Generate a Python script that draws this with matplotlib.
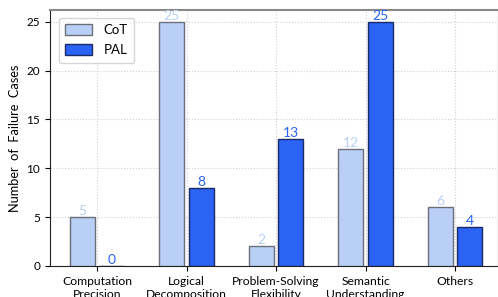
import numpy as np
import matplotlib.pyplot as plt

categories = ['Computation\nPrecision', 'Logical\nDecomposition', 'Problem-Solving\nFlexibility',
              'Semantic\nUnderstanding', 'Others']
cot = [5, 25, 2, 12, 6]
pal = [0, 8, 13, 25, 4]

plt.rcParams['font.family'] = ['Lato', 'DejaVu Sans']

fig = plt.figure(figsize=(4.98, 2.97), dpi=100)
ax = fig.add_axes([0.1004, 0.1044, 0.8996, 0.862])

x = np.arange(len(categories))
w = 0.28
off = 0.165
c_cot = '#b9cff6'
c_pal = '#2b63f5'
ax.bar(x - off, cot, w, color=c_cot, edgecolor='#6b6f7a', linewidth=1, label='CoT', zorder=3)
ax.bar(x + off, pal, w, color=c_pal, edgecolor='#1a2a66', linewidth=1, label='PAL', zorder=3)

for xi, v in zip(x - off, cot):
    ax.text(xi, v, str(v), ha='center', va='bottom', color=c_cot, fontsize=10)
for xi, v in zip(x + off, pal):
    ax.text(xi, v, str(v), ha='center', va='bottom', color=c_pal, fontsize=10)

ax.set_xlim(-0.525, 4.48)
ax.set_ylim(0, 26.2)
ax.set_xticks(x)
ax.set_xticklabels(categories, fontsize=8.7, linespacing=1.2)
ax.set_yticks([0, 5, 10, 15, 20, 25])
ax.tick_params(axis='y', labelsize=8.5)
ax.set_ylabel('Number  of  Failure  Cases', fontsize=9.2)
ax.grid(True, linestyle=':', color='#d0d0d0', linewidth=0.8, zorder=0)

ax.spines['top'].set_color('#888888')
ax.spines['top'].set_linewidth(1.5)
ax.spines['left'].set_color('#222222')
ax.spines['bottom'].set_color('#222222')

ax.legend(loc='upper left', fontsize=9.5, handlelength=2.0, handleheight=0.9,
          borderpad=0.5, labelspacing=0.6, handletextpad=0.9, fancybox=True,
          bbox_to_anchor=(0.005, 0.995))

fig.savefig('out.png', dpi=100)
